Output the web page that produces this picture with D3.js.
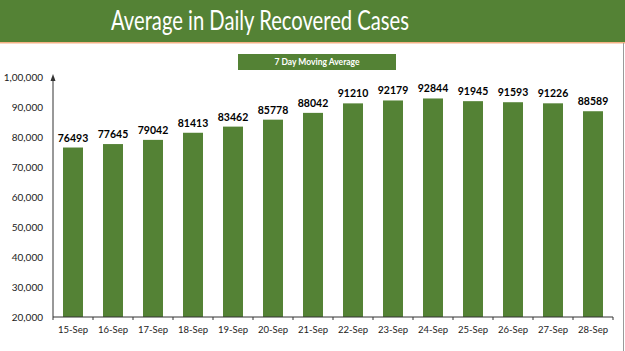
<!DOCTYPE html>
<html>
<head>
<meta charset="utf-8">
<script src="https://cdn.jsdelivr.net/npm/d3@7"></script>
<style>
  html, body { margin: 0; padding: 0; background: #fff; }
  svg { display: block; font-family: Lato, "Open Sans", sans-serif; }
</style>
</head>
<body>
<script>
const dates = ["15-Sep","16-Sep","17-Sep","18-Sep","19-Sep","20-Sep","21-Sep","22-Sep","23-Sep","24-Sep","25-Sep","26-Sep","27-Sep","28-Sep"];
const recovered = [76493,77645,79042,81413,83462,85778,88042,91210,92179,92844,91945,91593,91226,88589];
const yTicks = [20000,30000,40000,50000,60000,70000,80000,90000,100000];
const yTickLabels = ["20,000","30,000","40,000","50,000","60,000","70,000","80,000","90,000","1,00,000"];
const title = "Average in Daily Recovered Cases";
const seriesName = "7 Day Moving Average";

const W = 625, H = 351;
const green = "#548235";
const svg = d3.select("body").append("svg").attr("width", W).attr("height", H);

// header band
svg.append("rect").attr("x", 0).attr("y", 0).attr("width", W).attr("height", 42).attr("fill", green);
svg.append("rect").attr("x", 0).attr("y", 42).attr("width", W).attr("height", 1.5).attr("fill", "#f4b183");
svg.append("text").attr("x", 260).attr("y", 29.5).attr("text-anchor", "middle")
  .attr("fill", "#fff").attr("font-size", 26)
  .attr("textLength", 298).attr("lengthAdjust", "spacingAndGlyphs").text(title);
// right border
svg.append("line").attr("x1", 623.5).attr("x2", 623.5).attr("y1", 43).attr("y2", H).attr("stroke", "#9a9a9a").attr("stroke-width", 1);

// legend box
svg.append("rect").attr("x", 238).attr("y", 54).attr("width", 158).attr("height", 16).attr("fill", green);
svg.append("text").attr("x", 317).attr("y", 65).attr("text-anchor", "middle").attr("fill", "#fff")
  .attr("font-size", 8.5).attr("font-weight", "bold").text(seriesName);

const margin = {left: 53, right: 12, top: 77, bottom: 34};
const x = d3.scaleBand().domain(dates).range([margin.left, 613]).paddingInner(0.5).paddingOuter(0.25);
const y = d3.scaleLinear().domain([20000, 100000]).range([317, 77]);

svg.append("g").selectAll("rect").data(recovered).join("rect")
  .attr("x", (d, i) => x(dates[i])).attr("width", x.bandwidth())
  .attr("y", d => y(d)).attr("height", d => y(20000) - y(d)).attr("fill", green);

svg.append("g").selectAll("text").data(recovered).join("text")
  .attr("x", (d, i) => x(dates[i]) + x.bandwidth() / 2).attr("y", d => y(d) - 6)
  .attr("text-anchor", "middle").attr("font-size", 10.5).attr("font-weight", "bold").attr("fill", "#000")
  .text(d => d);

// y axis
const yAxis = d3.axisLeft(y).tickValues(yTicks).tickSize(0).tickPadding(10)
  .tickFormat((d, i) => yTickLabels[i]);
const gy = svg.append("g").attr("transform", `translate(${margin.left},0)`).call(yAxis);
gy.select(".domain").remove();
gy.selectAll("text").attr("font-size", 10).attr("fill", "#222").attr("font-family", "Lato, sans-serif");
svg.append("line").attr("x1", margin.left).attr("x2", margin.left).attr("y1", 317).attr("y2", 80)
  .attr("stroke", "#333").attr("stroke-width", 1);
svg.append("path").attr("d", `M${margin.left - 2.5},81 L${margin.left},74 L${margin.left + 2.5},81 Z`).attr("fill", "#333");

// x axis
const xb = d3.scaleLinear().domain([0, dates.length]).range([margin.left, 613]);
const gx = svg.append("g").attr("transform", "translate(0,317)");
gx.append("line").attr("x1", margin.left).attr("x2", 613).attr("stroke", "#333");
gx.selectAll("line.t").data(d3.range(dates.length + 1)).join("line").attr("class", "t")
  .attr("x1", d => xb(d)).attr("x2", d => xb(d)).attr("y1", 0).attr("y2", 3).attr("stroke", "#333");
gx.selectAll("text").data(dates).join("text")
  .attr("x", d => x(d) + x.bandwidth() / 2).attr("y", 16).attr("text-anchor", "middle")
  .attr("font-size", 9.5).attr("fill", "#222").text(d => d);
</script>
</body>
</html>
